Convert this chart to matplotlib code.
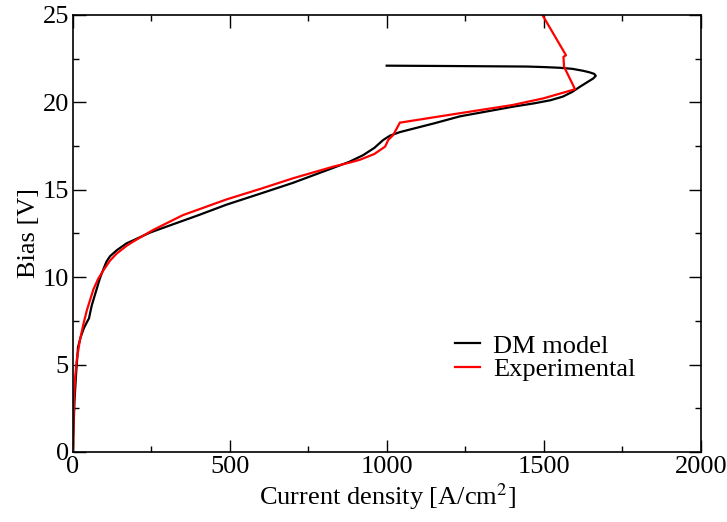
import matplotlib
matplotlib.use("Agg")
import matplotlib.pyplot as plt
from matplotlib.ticker import MultipleLocator

plt.rcParams['font.family'] = ['Liberation Serif', 'DejaVu Serif']
plt.rcParams['mathtext.fontset'] = 'stix'

# DM model (black)
dm_j = [0, 2, 5, 10, 16, 25, 35, 45, 51, 55, 60, 70, 86, 100, 107, 118, 140, 171, 191, 245, 299,
        400, 489, 600, 701, 828, 880, 924, 960, 988, 1010, 1041, 1150, 1232, 1400, 1470, 1520, 1560, 1590,
        1615, 1640, 1657, 1665, 1660, 1645, 1624, 1590, 1550, 1500, 1445, 1200, 999]
dm_v = [0, 1.5, 3.0, 4.5, 6.0, 6.6, 7.1, 7.45, 7.65, 8.0, 8.4, 9.0, 9.95, 10.6, 10.9, 11.2, 11.55, 11.94, 12.1, 12.55, 12.9,
        13.55, 14.15, 14.8, 15.4, 16.25, 16.6, 16.98, 17.4, 17.85, 18.1, 18.3, 18.8, 19.2, 19.75, 19.95, 20.12, 20.33, 20.6,
        20.9, 21.18, 21.37, 21.52, 21.63, 21.72, 21.81, 21.92, 21.98, 22.02, 22.05, 22.08, 22.1]

# Experimental (red)
ex_j = [0, 1, 3, 7, 12, 22, 33, 44, 65, 80, 97, 118, 139, 171, 191, 255, 350, 489, 600, 701, 828,
        880, 914, 960, 994, 1004, 1020, 1041, 1232, 1400, 1498, 1599, 1564, 1562, 1570, 1495]
ex_v = [0, 1.0, 3.0, 4.3, 5.26, 6.4, 7.3, 8.1, 9.3, 9.9, 10.4, 10.95, 11.35, 11.8, 12.03, 12.7, 13.55, 14.45, 15.07, 15.66, 16.32,
        16.55, 16.72, 17.05, 17.47, 17.85, 18.14, 18.84, 19.38, 19.85, 20.23, 20.75, 22.04, 22.6, 22.7, 25.0]

fig = plt.figure(figsize=(7.27, 5.22), dpi=100)
ax = fig.add_axes([0.1004, 0.1341, 0.8638, 0.8372])

ax.plot(dm_j, dm_v, color='black', lw=1.6, label='DM model')
ax.plot(ex_j, ex_v, color='#ff0000', lw=1.6, label='Experimental')

ax.set_xlim(0, 2000)
ax.set_ylim(0, 25)
ax.xaxis.set_major_locator(MultipleLocator(500))
ax.xaxis.set_minor_locator(MultipleLocator(250))
ax.yaxis.set_major_locator(MultipleLocator(5))
ax.yaxis.set_minor_locator(MultipleLocator(2.5))
ax.tick_params(which='both', direction='in', top=True, right=True, labelsize=19, width=1.0, pad=3)
ax.tick_params(which='major', length=9)
ax.tick_params(which='minor', length=4.5)
for s in ax.spines.values():
    s.set_linewidth(1.2)

ax.set_xlabel(r'Current density [A/cm$^2$]', fontsize=19, labelpad=2)
ax.set_ylabel('Bias [V]', fontsize=19, labelpad=2)

leg = ax.legend(loc='center left', bbox_to_anchor=(0.608, 0.216), frameon=False, fontsize=19,
                handlelength=0.95, handletextpad=0.5, labelspacing=0.0, borderpad=0, borderaxespad=0)

fig.savefig('out.png', dpi=100)
